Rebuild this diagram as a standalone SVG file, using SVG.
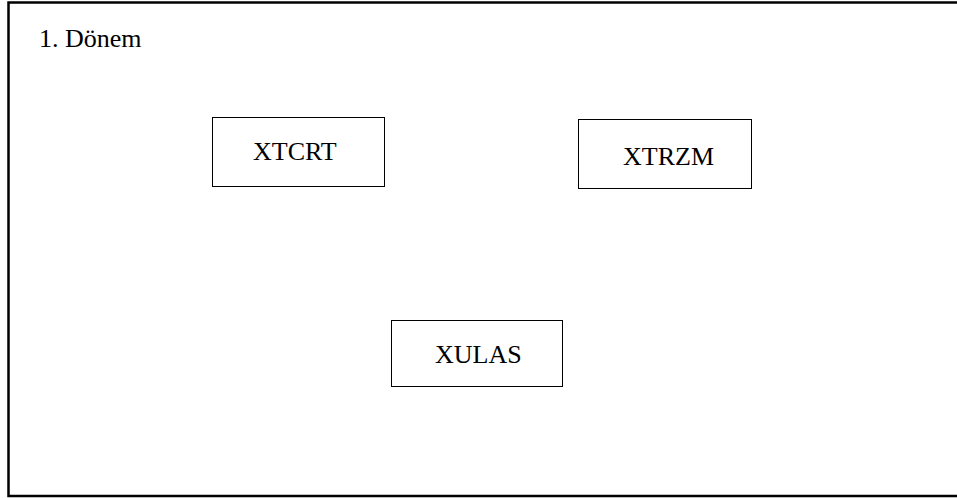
<svg xmlns="http://www.w3.org/2000/svg" width="957" height="498" viewBox="0 0 957 498">
<style>
.frame{fill:#fff;stroke:#000;stroke-width:2.5}
.box{fill:#fff;stroke:#000;stroke-width:1}
.t{font-family:"Liberation Serif","Times New Roman",serif;font-size:26px;fill:#000}
</style>
<rect width="957" height="498" fill="#fff"/>
<rect class="frame" x="8.5" y="2.5" width="960" height="493.5"/>
<text class="t" x="39" y="47" font-size="26">1. Dönem</text>
<g id="connectors"></g>
<g id="XTCRT">
<rect class="box" x="212.5" y="117.5" width="172" height="69"/>
<text class="t" x="253" y="160">XTCRT</text>
</g>
<g id="XTRZM">
<rect class="box" x="578.5" y="119.5" width="173" height="69"/>
<text class="t" x="623" y="165">XTRZM</text>
</g>
<g id="XULAS">
<rect class="box" x="391.5" y="320.5" width="171" height="66"/>
<text class="t" x="435" y="363">XULAS</text>
</g>
</svg>
